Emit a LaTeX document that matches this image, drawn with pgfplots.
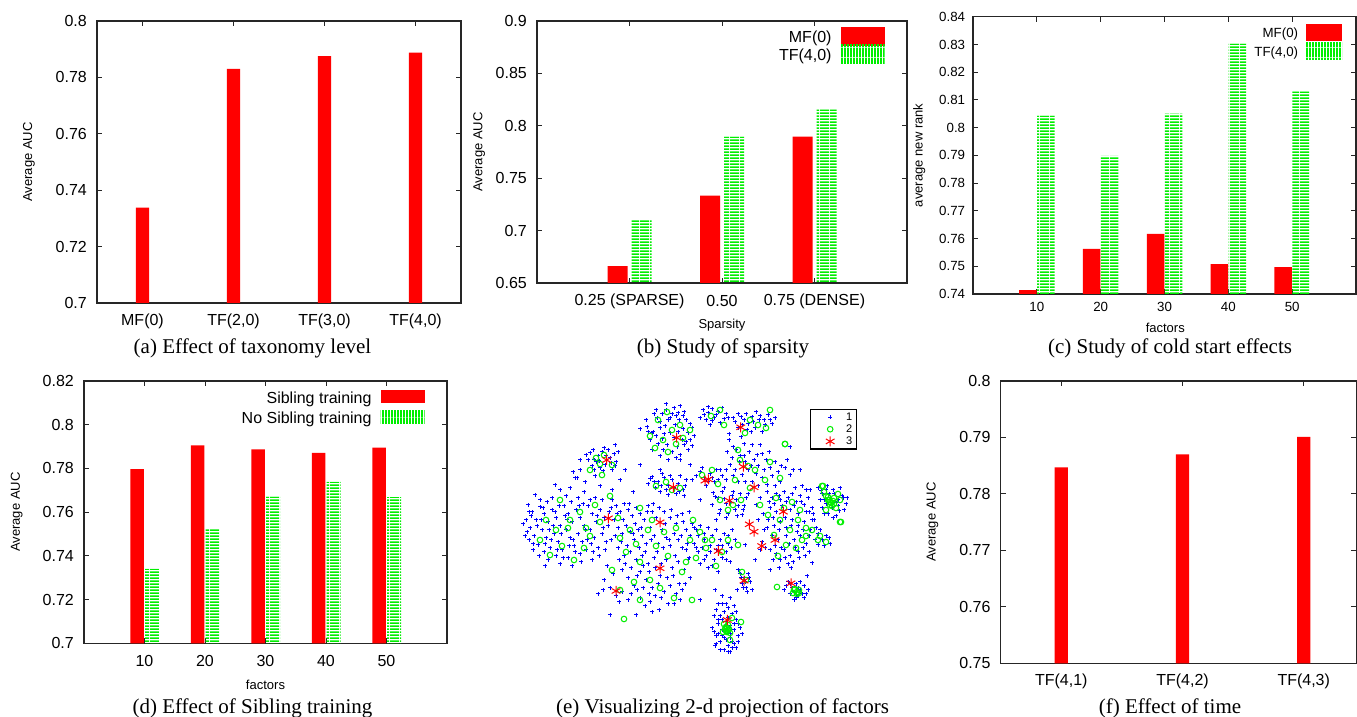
\documentclass[border=0pt]{standalone}
\usepackage{fontspec}
\setmainfont{Liberation Sans}
\newfontfamily\capfont{Liberation Serif}
\usepackage{pgfplots}
\pgfplotsset{compat=1.18}
\usetikzlibrary{patterns}
\definecolor{gred}{RGB}{255,0,0}
\definecolor{ggreen}{RGB}{0,238,0}
\definecolor{gblue}{RGB}{0,0,255}
\pgfdeclarepatternformonly{hstr}{\pgfqpoint{0pt}{0pt}}{\pgfqpoint{10pt}{3pt}}{\pgfqpoint{10pt}{3pt}}{\pgfpathrectangle{\pgfqpoint{0pt}{0pt}}{\pgfqpoint{10pt}{2pt}}\pgfusepath{fill}}
\pgfdeclarepatternformonly{vstr}{\pgfqpoint{0pt}{0pt}}{\pgfqpoint{3.3pt}{10pt}}{\pgfqpoint{3.3pt}{10pt}}{\pgfpathrectangle{\pgfqpoint{0pt}{0pt}}{\pgfqpoint{2.2pt}{10pt}}\pgfusepath{fill}}
\newcommand{\fs}[1]{\fontsize{#1}{#1}\selectfont}
\pgfplotsset{
  gnu/.style={
    scale only axis, anchor=south west,
    axis line style={line width=1.3pt, black!85},
    tick style={line width=1pt, black!85},
    major tick length=5pt,
    tick align=inside,
    /pgf/number format/assume math mode=true,
    tick label style={font=\fs{16}},
    yticklabel style={anchor=east, inner xsep=0pt, xshift=-10pt},
    xticklabel style={anchor=center, yshift=-18pt},
    label style={font=\fs{13}},
    ylabel style={anchor=center},
    xlabel style={anchor=center},
    legend plot pos=right,
    legend cell align=right,
    legend style={/tikz/every odd column/.append style={column sep=7pt}},
  },
  redbar/.style={ybar, fill=gred, draw=none},
  greenbar/.style={ybar, pattern=hstr, pattern color=ggreen, draw=none},
  scatleg/.style={legend image code/.code={\path[draw=none,fill=none] (-18pt,-6.5pt) rectangle (14pt,6.5pt); \draw plot coordinates {(0pt,0pt)};}},
}
\begin{document}
\begin{tikzpicture}
\useasboundingbox (0pt,0pt) rectangle (1357pt,717pt);

% (a)
\begin{axis}[gnu, at={(97pt,414pt)}, width=364pt, height=282pt,
  xmin=0.5, xmax=4.5, ymin=0.7, ymax=0.8,
  ytick={0.7,0.72,0.74,0.76,0.78,0.8},
  xtick={1,2,3,4}, xticklabels={MF(0),TF(2{,}0),TF(3{,}0),TF(4{,}0)},
  ylabel={Average AUC}, ylabel style={at={(axis description cs:-0.187,0.5)}}]
\addplot[redbar, bar width=13.3pt] coordinates {(1,0.7338) (2,0.7830) (3,0.7875) (4,0.7888)};
\end{axis}
\node[anchor=base, font=\capfont\fs{21}] at (252.5pt,363pt) {(a) Effect of taxonomy level};

% (b)
\begin{axis}[gnu, at={(537pt,434pt)}, width=370pt, height=262pt,
  xmin=0, xmax=4, ymin=0.65, ymax=0.9,
  ytick={0.65,0.7,0.75,0.8,0.85,0.9},
  xtick={1,2,3}, xticklabels={0.25 (SPARSE),0.50,0.75 (DENSE)},
  xlabel={Sparsity}, xlabel style={at={(axis description cs:0.5,-0.160)}},
  ylabel={Average AUC}, ylabel style={at={(axis description cs:-0.156,0.5)}},
  legend style={at={(axis description cs:0.948,0.986)}, anchor=north east, draw=none, fill=none, font=\fs{16}, row sep=-2pt}]
\addplot[redbar, bar width=20pt, bar shift=-12pt,
  legend image code/.code={\fill[gred] (0pt,-8.2pt) rectangle (44pt,10.8pt);}]
  coordinates {(1,0.6662) (2,0.7333) (3,0.7896)};
\addlegendentry{MF(0)}
\addplot[greenbar, bar width=20pt, bar shift=12pt,
  legend image code/.code={\fill[pattern=vstr, pattern color=ggreen] (0pt,-8.2pt) rectangle (44pt,10.8pt);}]
  coordinates {(1,0.7110) (2,0.7896) (3,0.8157)};
\addlegendentry{TF(4,0)}
\end{axis}
\node[anchor=base, font=\capfont\fs{21}] at (723pt,363pt) {(b) Study of sparsity};

% (c)
\begin{axis}[gnu, at={(973pt,423pt)}, width=383pt, height=277.3pt,
  xmin=0, xmax=60, ymin=0.74, ymax=0.84,
  tick label style={font=\fs{13.3}},
  xticklabel style={yshift=4.7pt},
  yticklabel style={xshift=2.3pt},
  ytick={0.74,0.75,0.76,0.77,0.78,0.79,0.8,0.81,0.82,0.83,0.84},
  xtick={10,20,30,40,50},
  xlabel={factors}, xlabel style={at={(axis description cs:0.502,-0.1215)}},
  ylabel={average new rank}, ylabel style={at={(axis description cs:-0.1406,0.5)}},
  legend style={at={(axis description cs:0.972,0.982)}, anchor=north east, draw=none, fill=none, font=\fs{13.3}, row sep=1.3pt, /tikz/every odd column/.append style={column sep=6pt}}]
\addplot[redbar, bar width=17.5pt, bar shift=-9pt,
  legend image code/.code={\fill[gred] (0pt,-7pt) rectangle (36pt,9.7pt);}]
  coordinates {(10,0.7414) (20,0.7563) (30,0.7617) (40,0.7508) (50,0.7497)};
\addlegendentry{MF(0)}
\addplot[greenbar, bar width=17.5pt, bar shift=9pt,
  legend image code/.code={\fill[pattern=vstr, pattern color=ggreen] (0pt,-7pt) rectangle (36pt,9.7pt);}]
  coordinates {(10,0.8043) (20,0.7898) (30,0.8050) (40,0.8303) (50,0.8131)};
\addlegendentry{TF(4,0)}
\end{axis}
\node[anchor=base, font=\capfont\fs{21}] at (1170pt,363pt) {(c) Study of cold start effects};

% (d)
\begin{axis}[gnu, at={(84pt,73.7pt)}, width=363pt, height=262.3pt,
  xmin=0, xmax=60, ymin=0.7, ymax=0.82,
  ytick={0.7,0.72,0.74,0.76,0.78,0.8,0.82},
  xtick={10,20,30,40,50},
  xlabel={factors}, xlabel style={at={(axis description cs:0.5,-0.159)}},
  ylabel={Average AUC}, ylabel style={at={(axis description cs:-0.1854,0.5)}},
  legend style={at={(axis description cs:0.947,0.9754)}, anchor=north east, draw=none, fill=none, font=\fs{16}, row sep=3pt}]
\addplot[redbar, bar width=13.5pt, bar shift=-7.3pt,
  legend image code/.code={\fill[gred] (0pt,-5.3pt) rectangle (44pt,8pt);}]
  coordinates {(10,0.7797) (20,0.7906) (30,0.7887) (40,0.7871) (50,0.7895)};
\addlegendentry{Sibling training}
\addplot[greenbar, bar width=14pt, bar shift=7.7pt,
  legend image code/.code={\fill[pattern=vstr, pattern color=ggreen] (0pt,-5.3pt) rectangle (44pt,8pt);}]
  coordinates {(10,0.7340) (20,0.7523) (30,0.7671) (40,0.7738) (50,0.7669)};
\addlegendentry{No Sibling training}
\end{axis}
\node[anchor=base, font=\capfont\fs{21}] at (252.5pt,3.7pt) {(d) Effect of Sibling training};

% (e)
\begin{axis}[at={(520pt,62pt)}, anchor=south west, scale only axis, width=340pt, height=255pt,
  xmin=520, xmax=860, ymin=62, ymax=317, hide axis, clip=false,
  y filter/.expression={717-y},
  legend style={at={(axis description cs:0.991,0.965)}, anchor=north east, draw=black, line width=1.3pt, font=\fs{11}, inner xsep=2pt, inner ysep=1pt, row sep=-1pt},
  legend cell align=left]
\addplot[only marks, mark=+, gblue, mark size=1.8pt, line width=1pt, scatleg] coordinates {
(654,414) (674,408) (672,414) (683,416) (660,422) (679,420) (647,427) (653,432) (665,426) (670,433) (683,429) (688,433) (662,439) (667,445) (677,447) (688,450) (652,433) (682,440) (663,450) (657,418) (668,420) (675,425) (690,424) (658,444) (672,452) (680,455) (684,445) (650,440) (694,436) (666,410) (678,413) (660,428)
(656,410) (662,414) (670,418) (676,416) (686,420) (692,428) (648,432) (656,436) (664,434) (674,438) (678,432) (686,442) (692,446) (660,456) (668,460) (676,458) (652,450) (666,404) (680,406) (684,412) (690,440) (646,420)
(703,410) (708,413) (712,409) (718,412) (722,408) (726,414) (706,420) (714,418) (720,423) (728,418) (710,425)
(704,415) (716,415) (724,419) (712,421) (700,418) (708,407)
(733,418) (738,414) (744,420) (748,424) (752,417) (756,412) (760,416) (764,420) (768,415) (772,424) (747,430) (755,428) (762,432) (738,428) (775,418)
(735,422) (741,417) (746,414) (753,422) (759,420) (765,425) (770,420) (751,432) (742,425)
(729,440) (790,447) (640,429)
(590,453) (594,460) (598,456) (602,452) (605,465) (610,458) (614,454) (616,462) (600,468) (592,466) (612,470) (608,450) (618,452) (596,462) (588,460) (580,470) (577,478) (573,472)
(586,455) (593,450) (599,461) (606,456) (611,463) (603,471) (594,470) (615,466) (604,448)
(727,452) (732,458) (736,450) (740,456) (745,462) (749,452) (754,460) (758,466) (762,454) (766,460) (770,468) (735,470) (742,475) (748,470) (756,474) (762,478) (730,465) (772,476) (778,472) (785,468) (790,475) (780,482) (767,485) (752,482) (738,482) (760,445) (744,444)
(733,447) (739,462) (744,456) (751,466) (757,455) (764,470) (769,452) (775,462) (781,466) (787,460) (793,470) (775,486) (758,486) (745,482) (733,476) (726,470) (752,445) (741,437) (729,434)
(652,477) (658,482) (664,478) (668,486) (672,480) (678,484) (683,490) (686,480) (660,492) (668,495) (676,494) (655,488) (648,484) (684,496) (680,476)
(654,482) (661,486) (666,490) (674,488) (679,492) (685,486) (650,479) (670,476) (662,474)
(700,472) (704,478) (710,474) (714,482) (706,486) (716,470) (722,476) (726,480) (692,480)
(702,468) (708,482) (712,478) (718,480) (720,470) (696,476)
(713,493) (718,498) (722,492) (726,504) (732,496) (736,500) (740,494) (744,506) (720,510) (728,514) (735,510) (716,520) (742,515) (746,498) (724,488) (712,505)
(715,497) (724,499) (730,502) (738,506) (733,492) (719,514) (726,518) (737,516) (743,510) (748,494)
(767,492) (772,498) (776,494) (780,500) (784,492) (788,498) (792,494) (796,502) (800,496) (804,505) (808,498) (770,508) (776,512) (782,506) (790,510) (798,514) (806,512) (812,508) (768,520) (774,526) (780,522) (786,528) (792,520) (798,526) (804,522) (810,530) (772,536) (778,540) (786,536) (794,540) (800,536) (806,544) (770,550) (776,554) (784,550) (790,556) (798,552) (780,560) (788,564) (764,530) (762,542) (758,520) (812,520) (815,540) (756,505) (760,498) (795,488) (802,486) (810,490)
(769,502) (774,504) (779,496) (786,502) (794,506) (801,502) (809,512) (773,518) (779,530) (785,518) (791,526) (797,532) (803,530) (809,536) (775,546) (781,548) (789,544) (795,548) (803,548) (809,552) (773,560) (785,558) (793,562) (799,558) (805,556) (767,528) (763,514) (765,548) (813,514) (816,528) (791,568) (779,568)
(818,488) (822,494) (826,490) (830,498) (834,494) (838,500) (842,496) (826,504) (832,508) (838,506) (844,510) (828,514) (836,516) (822,508) (840,488) (846,504) (820,500) (818,534) (822,540) (826,536) (830,544) (818,545) (814,520) (806,490)
(821,491) (827,486) (833,490) (836,503) (829,494) (824,500) (839,511) (843,498) (833,518) (824,514) (847,498) (820,530) (824,546) (829,538)
(528,505) (532,512) (536,520) (530,528) (534,536) (540,507) (544,514) (548,522) (542,530) (546,538) (552,510) (556,518) (560,526) (554,534) (558,542) (564,506) (568,514) (572,522) (566,530) (570,538) (576,510) (580,518) (584,526) (578,534) (582,542) (588,506) (592,514) (596,522) (590,530) (594,538) (600,510) (604,518) (608,526) (602,534) (606,542) (538,545) (544,552) (550,548) (556,556) (562,550) (568,558) (574,546) (580,554) (586,550) (592,560) (598,548) (548,560) (560,564) (572,566) (540,500) (552,498) (566,496) (578,498) (590,500) (602,500) (584,492) (560,490) (535,495) (526,520) (529,540) (533,550) (545,566)
(531,516) (537,526) (543,508) (549,530) (555,512) (561,534) (567,520) (573,540) (579,506) (585,530) (591,544) (597,516) (603,528) (609,512) (527,532) (533,544) (539,556) (545,544) (551,540) (557,550) (563,558) (569,546) (575,552) (581,562) (587,540) (593,552) (599,556) (605,550) (611,540) (547,502) (559,506) (571,502) (583,504) (595,498) (529,512) (523,524) (525,536) (541,520) (553,526) (565,516)
(555,485) (570,488) (585,482) (600,486) (612,490) (575,478) (595,476)
(612,500) (616,506) (620,512) (624,504) (628,510) (632,516) (636,508) (640,514) (644,520) (648,506) (652,512) (656,518) (614,520) (618,528) (622,534) (626,526) (630,532) (634,540) (638,530) (642,536) (646,544) (650,528) (654,536) (658,544) (662,530) (666,538) (670,546) (674,534) (678,540) (682,548) (664,512) (670,518) (676,524) (682,514) (686,530) (618,548) (624,556) (630,552) (636,560) (642,556) (648,564) (654,558) (660,576) (666,560) (672,568) (678,562) (684,570) (640,572) (646,580) (652,588) (658,584) (664,592) (670,586) (676,594) (682,590) (622,570) (628,578) (634,586) (604,580) (610,588) (616,596) (622,592) (598,594) (628,600) (640,598) (650,602) (668,604) (688,560) (690,578)
(611,508) (617,514) (623,520) (629,504) (635,524) (641,528) (647,512) (653,504) (659,508) (665,524) (671,510) (677,516) (683,522) (689,512) (615,536) (621,542) (627,546) (633,534) (639,548) (645,552) (651,540) (657,552) (663,548) (669,540) (675,556) (681,536) (687,544) (619,560) (625,564) (631,568) (637,576) (643,566) (649,572) (655,568) (661,564) (667,578) (673,576) (679,584) (685,584) (631,594) (637,590) (643,588) (649,594) (655,596) (661,598) (613,574) (607,566) (603,590) (619,602) (645,606) (659,610) (674,604) (680,600)
(692,524) (696,530) (700,526) (704,534) (708,528) (712,536) (716,530) (720,540) (724,534) (728,544) (694,544) (698,552) (702,548) (706,556) (710,552) (714,560) (718,546) (722,558) (726,552) (730,562) (700,564) (708,568) (690,536) (732,530) (686,550)
(694,528) (698,536) (704,540) (710,546) (716,550) (722,546) (728,536) (726,560) (712,566) (704,560) (696,548) (718,572) (731,548) (735,540) (689,558)
(740,574) (744,578) (748,574) (742,584) (750,582) (746,588) (738,570) (752,590)
(741,578) (745,582) (749,578) (743,588) (747,592)
(788,582) (792,588) (796,584) (800,590) (804,586) (790,594) (798,596) (806,594) (794,600) (784,590)
(790,584) (794,592) (798,588) (802,594) (786,586) (800,582) (808,590) (804,598) (796,598)
(716,610) (720,616) (724,612) (728,618) (732,614) (736,620) (718,624) (722,630) (726,626) (730,634) (734,630) (738,636) (716,636) (720,642) (724,638) (728,646) (732,642) (736,648) (712,628) (740,628) (726,604) (730,598) (722,596) (734,606) (715,646) (730,652) (720,650)
(714,616) (718,620) (722,620) (726,622) (730,626) (734,624) (738,624) (714,632) (718,634) (722,636) (726,640) (730,638) (734,644) (738,642) (742,634) (716,644) (724,650) (728,652) (732,648) (722,604) (728,608) (736,612) (718,604)
(715,590) (700,600) (760,550) (800,470) (680,460) (690,465) (620,480) (633,492) (625,470) (640,465) (580,460) (615,445) (700,500) (745,545) (755,560) (770,570) (812,563) (807,576) (610,615) (652,612) (636,615) (660,470) (737,590)
};
\addlegendentry{1}
\addplot[only marks, mark=o, ggreen, mark size=2.8pt, line width=1pt, scatleg] coordinates {
(667,412) (658,420) (672,430) (680,425) (663,440) (676,444) (690,430) (650,436) (668,452) (683,438) (655,448)
(711,416) (720,410) (724,425)
(750,420) (758,425) (745,433) (766,428) (770,410)
(596,458) (600,464) (604,455) (590,470) (612,465) (602,475)
(740,460) (748,466) (735,480) (755,470) (770,462) (765,480) (780,478) (738,450) (750,488) (785,444)
(656,486) (672,490) (666,482) (680,488)
(702,475) (718,484) (712,470)
(720,500) (733,505) (728,510) (741,500)
(776,498) (784,508) (792,502) (800,510) (780,520) (790,530) (798,520) (806,528) (774,535) (786,545) (796,548) (802,540) (768,515) (812,530) (778,556)
(826,496) (830,502) (834,498) (832,506) (828,500) (838,494) (822,486) (840,522) (820,536) (826,542)
(829,500) (831,503) (833,501) (830,505) (834,504) (828,497) (836,508) (826,510) (840,500) (824,492)
(546,520) (556,530) (568,528) (580,512) (590,536) (600,522) (562,546) (540,540) (584,548) (574,560) (595,505) (560,500) (610,496)
(618,518) (630,530) (640,508) (652,520) (664,532) (676,528) (626,552) (640,562) (656,546) (668,556) (682,572) (650,580) (660,588) (634,582) (620,590) (674,598) (640,600) (692,600) (686,562) (612,570)
(700,532) (712,540) (706,548) (722,552) (716,566) (696,558) (728,540)
(746,580) (742,572)
(794,590) (797,592) (799,590) (777,587) (795,589) (797,594) (799,593) (793,593)
(727,628) (728,630) (726,631) (724,624) (732,618) (741,622) (730,640)
(726,627) (729,629) (727,632) (725,629) (730,633) (723,632) (728,625)
(806,536) (818,540) (760,505) (738,545) (705,540) (690,540) (648,530) (636,544) (620,538) (570,520) (550,555) (586,528)
(624,619) (823,486) (841,522) (785,444) (693,520)
};
\addlegendentry{2}
\addplot[only marks, mark=asterisk, gred, mark size=5pt, line width=1pt, scatleg] coordinates {
(676.7,437.7) (606.7,460) (740.7,427.3) (743.3,466.7) (708.3,479.3) (705,480.7) (673.3,487.3) (754,487.3) (729.3,500.7) (783.3,511.7) (608.3,518.3) (660,522.3) (749.3,524.3) (754,531.7) (775,540) (761.7,546) (718.3,551) (660,568.3) (616,591) (744,580.7) (791,583.3) (727.3,620)
};
\addlegendentry{3}
\end{axis}
\node[anchor=base, font=\capfont\fs{21}] at (722.5pt,3.7pt) {(e) Visualizing 2-d projection of factors};

% (f)
\begin{axis}[gnu, at={(1000.7pt,53.7pt)}, width=355.5pt, height=282.3pt,
  xmin=0.5, xmax=3.433, ymin=0.75, ymax=0.8,
  ytick={0.75,0.76,0.77,0.78,0.79,0.8},
  xtick={1,2,3}, xticklabels={TF(4{,}1),TF(4{,}2),TF(4{,}3)},
  ylabel={Average AUC}, ylabel style={at={(axis description cs:-0.1924,0.5)}}]
\addplot[redbar, bar width=13.3pt] coordinates {(1,0.7847) (2,0.7870) (3,0.7901)};
\end{axis}
\node[anchor=base, font=\capfont\fs{21}] at (1170pt,3.7pt) {(f) Effect of time};
\end{tikzpicture}
\end{document}
